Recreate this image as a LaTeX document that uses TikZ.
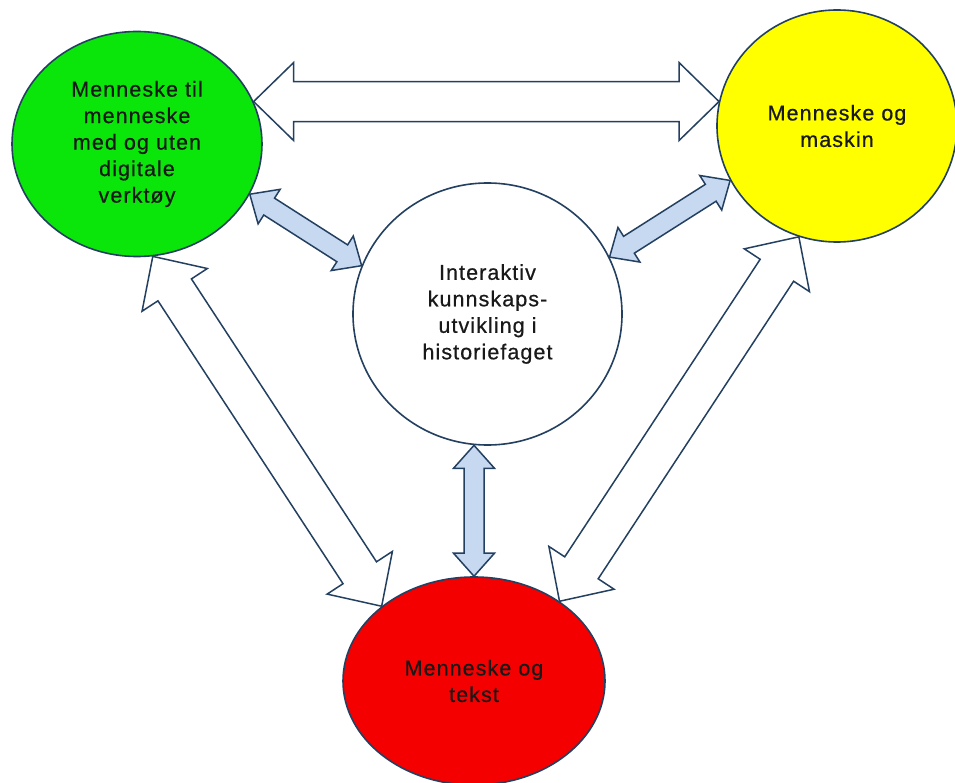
\documentclass[tikz,border=0pt]{standalone}
\usepackage{fontspec}
\newfontfamily\lblfont[LetterSpace=5,FakeBold=0.6]{Liberation Sans}
\usetikzlibrary{shapes.geometric,calc}

\definecolor{edgeblue}{RGB}{36,64,97}
\definecolor{paleblue}{RGB}{198,217,241}
\definecolor{brightgreen}{RGB}{10,230,10}
\definecolor{brightyellow}{RGB}{255,255,0}
\definecolor{brightred}{RGB}{245,0,0}

\tikzset{
  bubble/.style={ellipse, draw=edgeblue, line width=1.6pt, inner sep=0pt,
    align=center, text=black!90,
    font=\lblfont\fontsize{21.5}{26.5}\selectfont},
  widearrow/.style={draw=edgeblue, line width=1.5pt, fill=white, line join=miter},
  slimarrow/.style={draw=edgeblue, line width=1.5pt, fill=paleblue, line join=miter},
}

% Double-headed block arrow: style, end A, end B, half shaft, half head, head length
\newcommand{\blockpair}[6]{%
  \path (#2) coordinate (bp-a) (#3) coordinate (bp-b);
  \path ($(bp-a)!#6!(bp-b)$) coordinate (bp-ha)
        ($(bp-b)!#6!(bp-a)$) coordinate (bp-hb);
  \path[#1] (bp-a)
    -- ($(bp-ha)!#5!90:(bp-b)$) -- ($(bp-ha)!#4!90:(bp-b)$)
    -- ($(bp-hb)!#4!-90:(bp-a)$) -- ($(bp-hb)!#5!-90:(bp-a)$)
    -- (bp-b)
    -- ($(bp-hb)!#5!90:(bp-a)$) -- ($(bp-hb)!#4!90:(bp-a)$)
    -- ($(bp-ha)!#4!-90:(bp-b)$) -- ($(bp-ha)!#5!-90:(bp-b)$)
    -- cycle;
}

\begin{document}
\begin{tikzpicture}[x=1pt,y=-1pt]
  \fill[white] (0,0) rectangle (955,783);
  \useasboundingbox (0,0) rectangle (955,783);

  % the four fields
  \node[bubble, fill=brightgreen, minimum width=250pt, minimum height=225pt]
    (green) at (137,144) {Menneske til\\menneske\\med og uten\\digitale\\verktøy};
  \node[bubble, fill=brightyellow, minimum width=240pt, minimum height=232pt]
    (yellow) at (837,126) {Menneske og\\maskin};
  \node[bubble, fill=white, minimum width=269pt, minimum height=262pt]
    (center) at (487.5,314) {Interaktiv\\kunnskaps-\\utvikling i\\historiefaget};
  \node[bubble, fill=brightred, minimum width=262pt, minimum height=208pt]
    (red) at (474,681) {Menneske og\\tekst};

  % outer connections
  \blockpair{widearrow}{green.20}{yellow.168 |- green.20}{20pt}{39pt}{40pt}
  \blockpair{widearrow}{green.-82}{red.141}{20pt}{39pt}{40pt}
  \blockpair{widearrow}{yellow.-109}{red.43}{20pt}{39pt}{40pt}

  % connections to the centre
  \blockpair{slimarrow}{green.-24}{center.159}{10pt}{20.5pt}{23pt}
  \blockpair{slimarrow}{yellow.-153}{center.25}{10pt}{20.5pt}{23pt}
  \blockpair{slimarrow}{red.north |- center.-95}{red.north}{10pt}{20.5pt}{23pt}
\end{tikzpicture}
\end{document}
